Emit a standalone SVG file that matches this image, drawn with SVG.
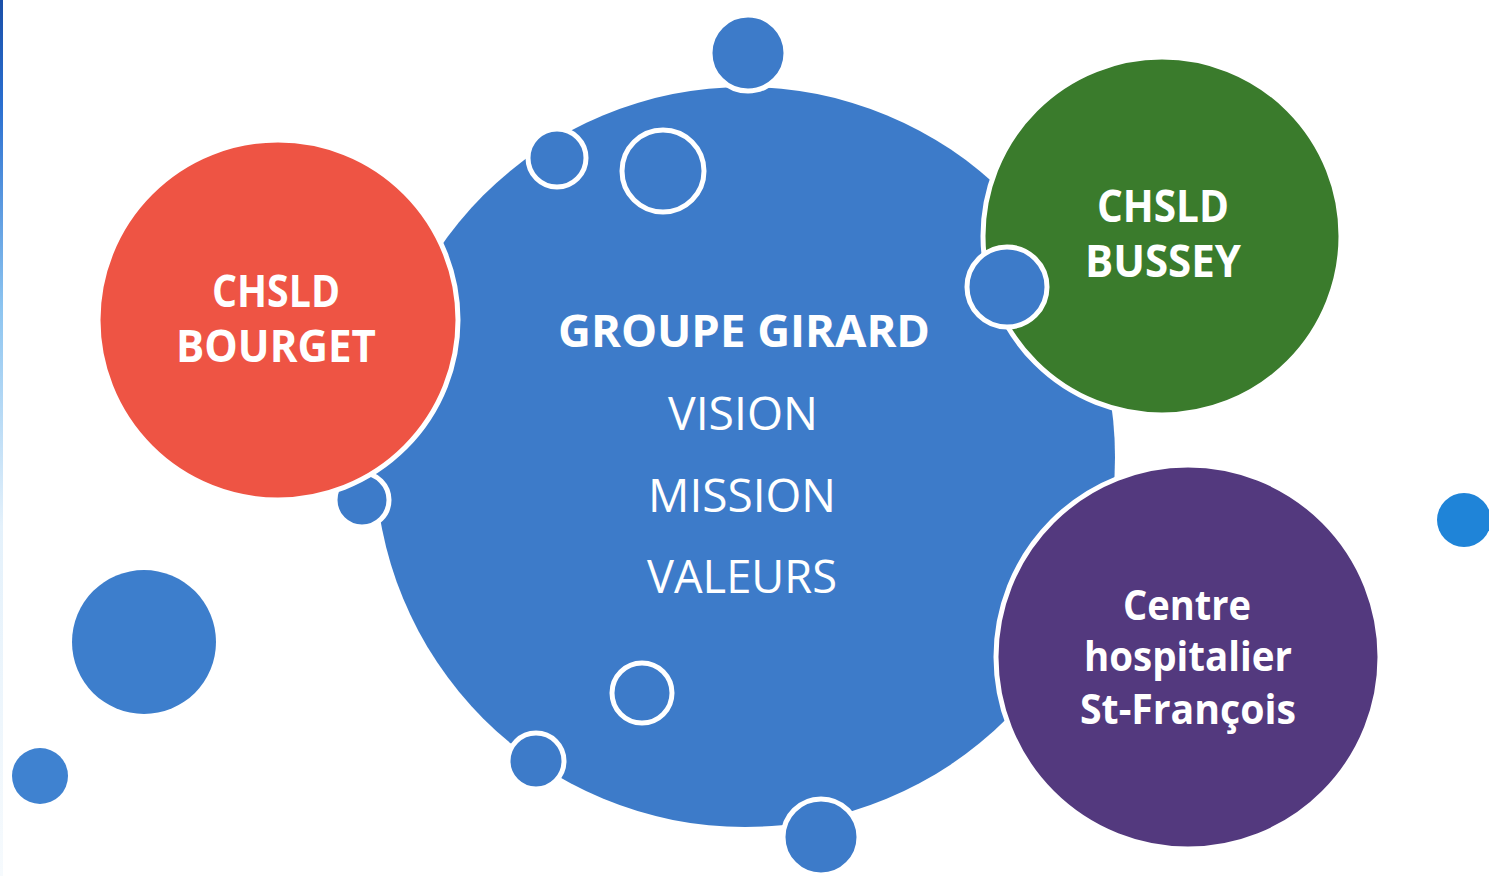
<svg xmlns="http://www.w3.org/2000/svg" width="1489" height="876" viewBox="0 0 1489 876">
  <defs>
    <linearGradient id="edgeFade" x1="0" y1="0" x2="0" y2="1">
      <stop offset="0" stop-color="#1a4fa8"/>
      <stop offset="0.12" stop-color="#2a6fd0"/>
      <stop offset="0.35" stop-color="#8cc4f0"/>
      <stop offset="0.6" stop-color="#e4f1fb"/>
      <stop offset="1" stop-color="#f6fafd"/>
    </linearGradient>
  </defs>
  <style>
    .ring { stroke: #ffffff; stroke-width: 5; }
    .blue { fill: #3d7bc9; }
    .bold { font-family: "Open Sans", "Liberation Sans", sans-serif; font-weight: 700; fill: #ffffff; text-anchor: middle; }
    .reg { font-family: "Open Sans", "Liberation Sans", sans-serif; font-weight: 400; fill: #ffffff; text-anchor: middle; }
  </style>

  <rect x="0" y="0" width="1489" height="876" fill="#ffffff"/>
  <rect x="0" y="0" width="3" height="876" fill="url(#edgeFade)"/>

  <!-- central hub with its satellite bubbles -->
  <g id="groupe-girard">
    <circle class="blue" cx="745" cy="457" r="370"/>
    <circle class="blue ring" cx="748" cy="53" r="38"/>
    <circle class="blue ring" cx="557" cy="158" r="29"/>
    <circle class="blue ring" cx="663" cy="171" r="41"/>
    <circle class="blue ring" cx="362" cy="500" r="27"/>
    <circle class="blue ring" cx="642" cy="693" r="30"/>
    <circle class="blue ring" cx="536" cy="761" r="28"/>
    <circle class="blue ring" cx="821" cy="837" r="38"/>
    <text class="bold" x="744" y="347" font-size="45" textLength="372" lengthAdjust="spacingAndGlyphs">GROUPE GIRARD</text>
    <text class="reg" x="743" y="430" font-size="46" textLength="150" lengthAdjust="spacingAndGlyphs">VISION</text>
    <text class="reg" x="742" y="512" font-size="46" textLength="188" lengthAdjust="spacingAndGlyphs">MISSION</text>
    <text class="reg" x="742" y="593" font-size="46" textLength="190" lengthAdjust="spacingAndGlyphs">VALEURS</text>
  </g>

  <g id="chsld-bourget">
    <circle class="ring" fill="#ee5444" cx="278" cy="320" r="180"/>
    <text class="bold" x="276" y="307" font-size="44" textLength="128" lengthAdjust="spacingAndGlyphs">CHSLD</text>
    <text class="bold" x="276" y="362" font-size="44" textLength="200" lengthAdjust="spacingAndGlyphs">BOURGET</text>
  </g>

  <g id="chsld-bussey">
    <circle class="ring" fill="#3a7b2c" cx="1162" cy="236" r="179"/>
    <circle class="blue ring" cx="1007" cy="287" r="40"/>
    <text class="bold" x="1163" y="222" font-size="44" textLength="132" lengthAdjust="spacingAndGlyphs">CHSLD</text>
    <text class="bold" x="1163" y="277" font-size="44" textLength="156" lengthAdjust="spacingAndGlyphs">BUSSEY</text>
  </g>

  <g id="centre-st-francois">
    <circle class="ring" fill="#53397e" cx="1188" cy="657" r="192"/>
    <text class="bold" x="1187" y="620" font-size="41" textLength="128" lengthAdjust="spacingAndGlyphs">Centre</text>
    <text class="bold" x="1188" y="671" font-size="41" textLength="208" lengthAdjust="spacingAndGlyphs">hospitalier</text>
    <text class="bold" x="1188" y="724" font-size="41" textLength="216" lengthAdjust="spacingAndGlyphs">St-François</text>
  </g>

  <!-- loose bubbles -->
  <g id="bubbles">
    <circle fill="#3d7ecc" cx="144" cy="642" r="72"/>
    <circle fill="#3f82d0" cx="40" cy="776" r="28"/>
    <circle fill="#1f84d8" cx="1464" cy="520" r="27"/>
  </g>
</svg>
